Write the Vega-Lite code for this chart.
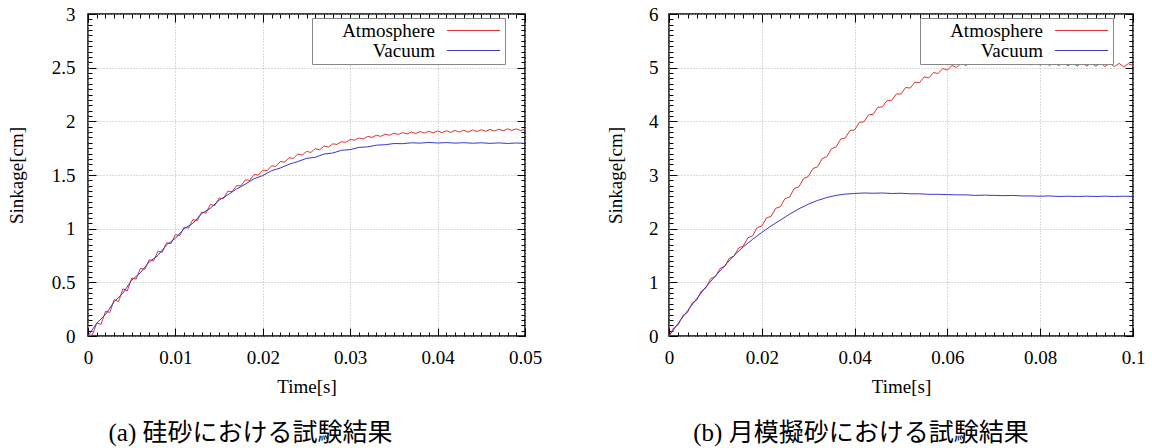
{
  "$schema": "https://vega.github.io/schema/vega-lite/v6.json",
  "padding": {"left": 6, "top": 4, "right": 0, "bottom": 0},
  "background": "white",
  "spacing": 62,
  "config": {
    "font": "Liberation Serif",
    "view": {"stroke": "black", "strokeWidth": 1.5},
    "axis": {
      "domain": false,
      "labelFont": "Liberation Serif",
      "labelFontSize": 19,
      "labelColor": "black",
      "titleFont": "Liberation Serif",
      "titleFontSize": 19,
      "titleFontWeight": "normal",
      "titleColor": "black",
      "tickColor": "black",
      "tickWidth": 1,
      "gridColor": "#b5b5b5",
      "gridDash": [1, 2],
      "gridWidth": 1,
      "labelOverlap": false,
      "labelFlush": false,
      "labelBound": false
    },
    "legend": {
      "title": null,
      "symbolType": "M-5,0H5",
      "symbolSize": 112,
      "symbolStrokeWidth": 1,
      "labelFont": "Liberation Serif",
      "labelFontSize": 19,
      "labelColor": "black",
      "labelAlign": "right",
      "labelOffset": -48,
      "symbolOffset": 149,
      "padding": 3,
      "rowPadding": 0,
      "strokeColor": "#888888",
      "fillColor": "white",
      "labelLimit": 0
    }
  },
  "resolve": {"scale": {"color": "independent"}, "legend": {"color": "independent"}},
  "datasets": {
    "la": [
      {"t":0,"s":0},{"t":0.0005,"s":0.01},{"t":0.001,"s":0.12},{"t":0.0015,"s":0.11},{"t":0.002,"s":0.23},{"t":0.0025,"s":0.22},
      {"t":0.003,"s":0.34},{"t":0.0035,"s":0.32},{"t":0.004,"s":0.44},{"t":0.0045,"s":0.42},{"t":0.005,"s":0.54},{"t":0.0055,"s":0.53},
      {"t":0.006,"s":0.63},{"t":0.0065,"s":0.62},{"t":0.007,"s":0.71},{"t":0.0075,"s":0.70},{"t":0.008,"s":0.79},{"t":0.0085,"s":0.78},
      {"t":0.009,"s":0.87},{"t":0.0095,"s":0.86},{"t":0.01,"s":0.945},{"t":0.0105,"s":0.935},{"t":0.011,"s":1.015},{"t":0.0115,"s":1.005},
      {"t":0.012,"s":1.085},{"t":0.0125,"s":1.075},{"t":0.013,"s":1.155},{"t":0.0135,"s":1.145},{"t":0.014,"s":1.225},{"t":0.0145,"s":1.215},
      {"t":0.015,"s":1.285},{"t":0.0155,"s":1.28},{"t":0.016,"s":1.35},{"t":0.0165,"s":1.345},{"t":0.017,"s":1.40},{"t":0.0175,"s":1.40},
      {"t":0.018,"s":1.455},{"t":0.0185,"s":1.45},{"t":0.019,"s":1.505},{"t":0.0195,"s":1.50},{"t":0.02,"s":1.545},{"t":0.0205,"s":1.54},
      {"t":0.021,"s":1.585},{"t":0.0215,"s":1.58},{"t":0.022,"s":1.625},{"t":0.0225,"s":1.62},{"t":0.023,"s":1.66},{"t":0.0235,"s":1.655},
      {"t":0.024,"s":1.695},{"t":0.0245,"s":1.685},{"t":0.025,"s":1.72},{"t":0.0255,"s":1.71},{"t":0.026,"s":1.745},{"t":0.0265,"s":1.735},
      {"t":0.027,"s":1.77},{"t":0.0275,"s":1.76},{"t":0.028,"s":1.79},{"t":0.0285,"s":1.785},{"t":0.029,"s":1.81},{"t":0.0295,"s":1.805},
      {"t":0.03,"s":1.83},{"t":0.0305,"s":1.825},{"t":0.031,"s":1.845},{"t":0.0315,"s":1.835},{"t":0.032,"s":1.86},{"t":0.0325,"s":1.85},
      {"t":0.033,"s":1.87},{"t":0.0335,"s":1.86},{"t":0.034,"s":1.88},{"t":0.0345,"s":1.87},{"t":0.035,"s":1.89},{"t":0.0355,"s":1.878},
      {"t":0.036,"s":1.895},{"t":0.0365,"s":1.882},{"t":0.037,"s":1.90},{"t":0.0375,"s":1.886},{"t":0.038,"s":1.905},{"t":0.0385,"s":1.89},
      {"t":0.039,"s":1.908},{"t":0.0395,"s":1.892},{"t":0.04,"s":1.91},{"t":0.0405,"s":1.895},{"t":0.041,"s":1.912},{"t":0.0415,"s":1.897},
      {"t":0.042,"s":1.915},{"t":0.0425,"s":1.90},{"t":0.043,"s":1.917},{"t":0.0435,"s":1.90},{"t":0.044,"s":1.92},{"t":0.0445,"s":1.905},
      {"t":0.045,"s":1.922},{"t":0.0455,"s":1.907},{"t":0.046,"s":1.925},{"t":0.0465,"s":1.91},{"t":0.047,"s":1.927},{"t":0.0475,"s":1.912},
      {"t":0.048,"s":1.93},{"t":0.0485,"s":1.915},{"t":0.049,"s":1.93},{"t":0.0495,"s":1.915},{"t":0.05,"s":1.925}
    ],
    "lv": [
      {"t":0,"s":0},{"t":0.001,"s":0.12},{"t":0.002,"s":0.20},{"t":0.003,"s":0.32},{"t":0.004,"s":0.40},{"t":0.005,"s":0.52},
      {"t":0.006,"s":0.59},{"t":0.007,"s":0.69},{"t":0.008,"s":0.75},{"t":0.009,"s":0.85},{"t":0.01,"s":0.91},{"t":0.011,"s":1.0},
      {"t":0.012,"s":1.05},{"t":0.013,"s":1.14},{"t":0.014,"s":1.19},{"t":0.015,"s":1.265},{"t":0.016,"s":1.315},{"t":0.017,"s":1.37},
      {"t":0.018,"s":1.415},{"t":0.019,"s":1.465},{"t":0.02,"s":1.495},{"t":0.021,"s":1.54},{"t":0.022,"s":1.565},{"t":0.023,"s":1.60},
      {"t":0.024,"s":1.625},{"t":0.025,"s":1.655},{"t":0.026,"s":1.665},{"t":0.027,"s":1.695},{"t":0.028,"s":1.705},{"t":0.029,"s":1.73},
      {"t":0.03,"s":1.737},{"t":0.031,"s":1.757},{"t":0.032,"s":1.762},{"t":0.033,"s":1.778},{"t":0.034,"s":1.782},{"t":0.035,"s":1.793},
      {"t":0.036,"s":1.792},{"t":0.037,"s":1.80},{"t":0.038,"s":1.797},{"t":0.039,"s":1.803},{"t":0.04,"s":1.798},{"t":0.041,"s":1.802},
      {"t":0.042,"s":1.797},{"t":0.043,"s":1.801},{"t":0.044,"s":1.796},{"t":0.045,"s":1.80},{"t":0.046,"s":1.795},{"t":0.047,"s":1.799},
      {"t":0.048,"s":1.794},{"t":0.049,"s":1.798},{"t":0.05,"s":1.795}
    ],
    "ra": [
      {"t":0,"s":0},{"t":0.001,"s":0.15},{"t":0.002,"s":0.21},{"t":0.003,"s":0.385},{"t":0.004,"s":0.44},{"t":0.005,"s":0.615},
      {"t":0.006,"s":0.67},{"t":0.007,"s":0.84},{"t":0.008,"s":0.90},{"t":0.009,"s":1.07},{"t":0.01,"s":1.105},{"t":0.011,"s":1.26},
      {"t":0.012,"s":1.295},{"t":0.013,"s":1.45},{"t":0.014,"s":1.485},{"t":0.015,"s":1.64},{"t":0.016,"s":1.675},{"t":0.017,"s":1.83},
      {"t":0.018,"s":1.865},{"t":0.019,"s":2.02},{"t":0.02,"s":2.05},{"t":0.021,"s":2.20},{"t":0.022,"s":2.23},{"t":0.023,"s":2.38},
      {"t":0.024,"s":2.41},{"t":0.025,"s":2.56},{"t":0.026,"s":2.59},{"t":0.027,"s":2.75},{"t":0.028,"s":2.78},{"t":0.029,"s":2.935},
      {"t":0.03,"s":2.97},{"t":0.031,"s":3.12},{"t":0.032,"s":3.15},{"t":0.033,"s":3.305},{"t":0.034,"s":3.34},{"t":0.035,"s":3.49},
      {"t":0.036,"s":3.52},{"t":0.037,"s":3.67},{"t":0.038,"s":3.69},{"t":0.039,"s":3.83},{"t":0.04,"s":3.84},{"t":0.041,"s":3.98},
      {"t":0.042,"s":3.99},{"t":0.043,"s":4.12},{"t":0.044,"s":4.13},{"t":0.045,"s":4.26},{"t":0.046,"s":4.27},{"t":0.047,"s":4.39},
      {"t":0.048,"s":4.39},{"t":0.049,"s":4.51},{"t":0.05,"s":4.51},{"t":0.051,"s":4.63},{"t":0.052,"s":4.62},{"t":0.053,"s":4.73},
      {"t":0.054,"s":4.72},{"t":0.055,"s":4.83},{"t":0.056,"s":4.81},{"t":0.057,"s":4.91},{"t":0.058,"s":4.89},{"t":0.059,"s":4.985},
      {"t":0.06,"s":4.955},{"t":0.061,"s":5.04},{"t":0.062,"s":5.005},{"t":0.063,"s":5.085},{"t":0.064,"s":5.04},{"t":0.065,"s":5.11},
      {"t":0.066,"s":5.06},{"t":0.067,"s":5.125},{"t":0.068,"s":5.07},{"t":0.069,"s":5.13},{"t":0.07,"s":5.07},{"t":0.071,"s":5.13},
      {"t":0.072,"s":5.065},{"t":0.073,"s":5.125},{"t":0.074,"s":5.06},{"t":0.075,"s":5.12},{"t":0.076,"s":5.055},{"t":0.077,"s":5.115},
      {"t":0.078,"s":5.05},{"t":0.079,"s":5.11},{"t":0.08,"s":5.045},{"t":0.081,"s":5.105},{"t":0.082,"s":5.04},{"t":0.083,"s":5.10},
      {"t":0.084,"s":5.04},{"t":0.085,"s":5.095},{"t":0.086,"s":5.035},{"t":0.087,"s":5.09},{"t":0.088,"s":5.03},{"t":0.089,"s":5.09},
      {"t":0.09,"s":5.03},{"t":0.091,"s":5.085},{"t":0.092,"s":5.025},{"t":0.093,"s":5.085},{"t":0.094,"s":5.02},{"t":0.095,"s":5.08},
      {"t":0.096,"s":5.02},{"t":0.097,"s":5.08},{"t":0.098,"s":5.015},{"t":0.099,"s":5.075},{"t":0.1,"s":5.04}
    ],
    "rv": [
      {"t":0,"s":0},{"t":0.002,"s":0.24},{"t":0.004,"s":0.47},{"t":0.006,"s":0.70},{"t":0.008,"s":0.92},{"t":0.01,"s":1.12},
      {"t":0.012,"s":1.31},{"t":0.014,"s":1.50},{"t":0.016,"s":1.66},{"t":0.018,"s":1.80},{"t":0.02,"s":1.93},{"t":0.022,"s":2.05},
      {"t":0.024,"s":2.16},{"t":0.026,"s":2.27},{"t":0.028,"s":2.37},{"t":0.03,"s":2.455},{"t":0.032,"s":2.525},{"t":0.034,"s":2.58},
      {"t":0.036,"s":2.62},{"t":0.038,"s":2.645},{"t":0.04,"s":2.655},{"t":0.042,"s":2.665},{"t":0.044,"s":2.66},{"t":0.046,"s":2.665},
      {"t":0.048,"s":2.655},{"t":0.05,"s":2.66},{"t":0.052,"s":2.65},{"t":0.054,"s":2.65},{"t":0.056,"s":2.64},{"t":0.058,"s":2.64},
      {"t":0.06,"s":2.635},{"t":0.062,"s":2.63},{"t":0.064,"s":2.63},{"t":0.066,"s":2.62},{"t":0.068,"s":2.625},{"t":0.07,"s":2.62},
      {"t":0.072,"s":2.615},{"t":0.074,"s":2.62},{"t":0.076,"s":2.61},{"t":0.078,"s":2.61},{"t":0.08,"s":2.605},{"t":0.082,"s":2.61},
      {"t":0.084,"s":2.60},{"t":0.086,"s":2.605},{"t":0.088,"s":2.60},{"t":0.09,"s":2.605},{"t":0.092,"s":2.60},{"t":0.094,"s":2.605},
      {"t":0.096,"s":2.60},{"t":0.098,"s":2.605},{"t":0.1,"s":2.60}
    ]
  },
  "hconcat": [
    {
      "width": 437,
      "height": 322,
      "title": {"text": "(a) 硅砂における試験結果", "orient": "bottom", "anchor": "middle", "frame": "group", "dx": -56, "offset": 25, "font": "Liberation Serif, Noto Sans CJK JP", "fontSize": 25, "fontWeight": "normal", "color": "black"},
      "layer": [
        {
          "data": {"name": "la"},
          "mark": {"type": "line", "strokeWidth": 1, "clip": true},
          "encoding": {
            "x": {"field": "t", "type": "quantitative", "scale": {"domain": [0, 0.05], "nice": false, "zero": false},
              "axis": {"orient": "bottom", "tickCount": 50, "grid": true,
                "gridOpacity": {"condition": {"test": "abs(datum.value*100-round(datum.value*100))<0.001", "value": 1}, "value": 0},
                "tickSize": {"condition": {"test": "abs(datum.value*100-round(datum.value*100))<0.001", "value": -8}, "value": -4},
                "labelExpr": "abs(datum.value*100-round(datum.value*100))<0.001 ? format(datum.value,'~g') : ''",
                "labelPadding": 20, "title": "Time[s]", "titlePadding": 6}},
            "y": {"field": "s", "type": "quantitative", "scale": {"domain": [0, 3], "nice": false},
              "axis": {"orient": "left", "tickCount": 60, "grid": true,
                "gridOpacity": {"condition": {"test": "abs(datum.value*2-round(datum.value*2))<0.001", "value": 1}, "value": 0},
                "tickSize": {"condition": {"test": "abs(datum.value*2-round(datum.value*2))<0.001", "value": -8}, "value": -4},
                "labelExpr": "abs(datum.value*2-round(datum.value*2))<0.001 ? format(datum.value,'~g') : ''",
                "labelPadding": 21, "title": "Sinkage[cm]", "titlePadding": 25}},
            "color": {"datum": "Atmosphere", "type": "nominal",
              "scale": {"domain": ["Atmosphere", "Vacuum"], "range": ["#dd3333", "#3838c8"]},
              "legend": {"orient": "none", "legendX": 224, "legendY": 4}}
          }
        },
        {
          "data": {"name": "lv"},
          "mark": {"type": "line", "strokeWidth": 1, "clip": true},
          "encoding": {
            "x": {"field": "t", "type": "quantitative", "scale": {"domain": [0, 0.05], "nice": false, "zero": false},
              "axis": {"orient": "top", "tickCount": 50, "grid": false, "labels": false, "title": null,
                "tickSize": {"condition": {"test": "abs(datum.value*100-round(datum.value*100))<0.001", "value": -8}, "value": -4}}},
            "y": {"field": "s", "type": "quantitative", "scale": {"domain": [0, 3], "nice": false},
              "axis": {"orient": "right", "tickCount": 60, "grid": false, "labels": false, "title": null,
                "tickSize": {"condition": {"test": "abs(datum.value*2-round(datum.value*2))<0.001", "value": -8}, "value": -4}}},
            "color": {"datum": "Vacuum", "type": "nominal"}
          }
        }
      ],
      "resolve": {"axis": {"x": "independent", "y": "independent"}}
    },
    {
      "width": 464,
      "height": 322,
      "title": {"text": "(b) 月模擬砂における試験結果", "orient": "bottom", "anchor": "middle", "frame": "group", "dx": -40, "offset": 25, "font": "Liberation Serif, Noto Sans CJK JP", "fontSize": 25, "fontWeight": "normal", "color": "black"},
      "layer": [
        {
          "data": {"name": "ra"},
          "mark": {"type": "line", "strokeWidth": 1, "clip": true},
          "encoding": {
            "x": {"field": "t", "type": "quantitative", "scale": {"domain": [0, 0.1], "nice": false, "zero": false},
              "axis": {"orient": "bottom", "tickCount": 50, "grid": true,
                "gridOpacity": {"condition": {"test": "abs(datum.value*50-round(datum.value*50))<0.001", "value": 1}, "value": 0},
                "tickSize": {"condition": {"test": "abs(datum.value*50-round(datum.value*50))<0.001", "value": -8}, "value": -4},
                "labelExpr": "abs(datum.value*50-round(datum.value*50))<0.001 ? format(datum.value,'~g') : ''",
                "labelPadding": 20, "title": "Time[s]", "titlePadding": 6}},
            "y": {"field": "s", "type": "quantitative", "scale": {"domain": [0, 6], "nice": false},
              "axis": {"orient": "left", "tickCount": 60, "grid": true,
                "gridOpacity": {"condition": {"test": "abs(datum.value-round(datum.value))<0.001", "value": 1}, "value": 0},
                "tickSize": {"condition": {"test": "abs(datum.value-round(datum.value))<0.001", "value": -8}, "value": -4},
                "labelExpr": "abs(datum.value-round(datum.value))<0.001 ? format(datum.value,'~g') : ''",
                "labelPadding": 19, "title": "Sinkage[cm]", "titlePadding": 23}},
            "color": {"datum": "Atmosphere", "type": "nominal",
              "scale": {"domain": ["Atmosphere", "Vacuum"], "range": ["#dd3333", "#3838c8"]},
              "legend": {"orient": "none", "legendX": 251, "legendY": 4}}
          }
        },
        {
          "data": {"name": "rv"},
          "mark": {"type": "line", "strokeWidth": 1, "clip": true},
          "encoding": {
            "x": {"field": "t", "type": "quantitative", "scale": {"domain": [0, 0.1], "nice": false, "zero": false},
              "axis": {"orient": "top", "tickCount": 50, "grid": false, "labels": false, "title": null,
                "tickSize": {"condition": {"test": "abs(datum.value*50-round(datum.value*50))<0.001", "value": -8}, "value": -4}}},
            "y": {"field": "s", "type": "quantitative", "scale": {"domain": [0, 6], "nice": false},
              "axis": {"orient": "right", "tickCount": 60, "grid": false, "labels": false, "title": null,
                "tickSize": {"condition": {"test": "abs(datum.value-round(datum.value))<0.001", "value": -8}, "value": -4}}},
            "color": {"datum": "Vacuum", "type": "nominal"}
          }
        }
      ],
      "resolve": {"axis": {"x": "independent", "y": "independent"}}
    }
  ]
}
